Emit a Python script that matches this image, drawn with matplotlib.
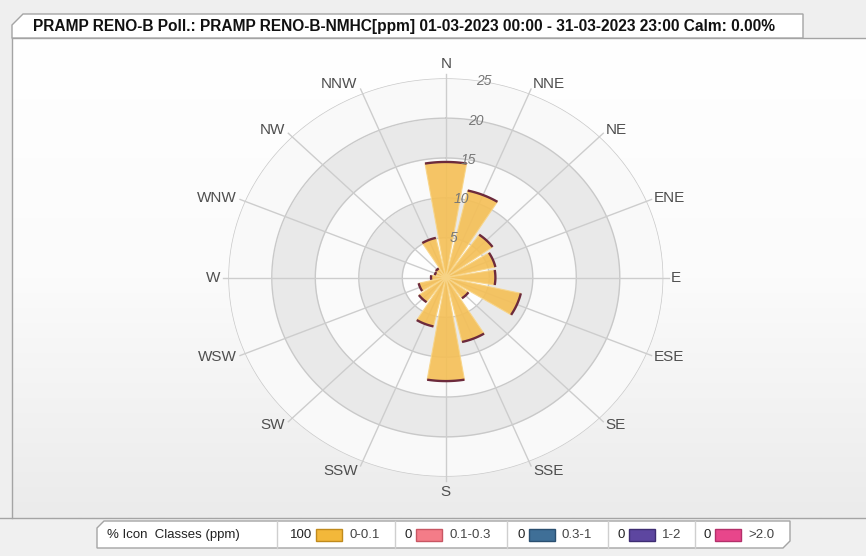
import numpy as np
import matplotlib
matplotlib.use("Agg")
import matplotlib.pyplot as plt
from matplotlib.colors import LinearSegmentedColormap
from matplotlib.patches import Polygon, Rectangle

# ---- data ----
directions = ["N", "NNE", "NE", "ENE", "E", "ESE", "SE", "SSE",
              "S", "SSW", "SW", "WSW", "W", "WNW", "NW", "NNW"]
freq_0_01 = [14.5, 11.2, 6.6, 5.85, 5.7, 8.85, 3.2, 8.3,
             13.0, 6.3, 3.8, 3.2, 1.7, 1.3, 1.4, 5.1]
radial_ticks = [5, 10, 15, 20, 25]
class_labels = ["0-0.1", "0.1-0.3", "0.3-1", "1-2", ">2.0"]
class_share = [100, 0, 0, 0, 0]
class_colors = ["#f3b83a", "#f47c88", "#3f6f97", "#5d46a0", "#e8468b"]
class_edges = ["#c08a1c", "#c85663", "#2a4f70", "#3e2d72", "#b3306a"]
title = ("PRAMP RENO-B Poll.: PRAMP RENO-B-NMHC[ppm] 01-03-2023 00:00 - "
         "31-03-2023 23:00 Calm: 0.00%")

W, H = 866, 556
plt.rcParams["font.family"] = ["Liberation Sans", "DejaVu Sans"]
fig = plt.figure(figsize=(W / 100, H / 100), dpi=100, facecolor="#efefef")

# ---- frame, title tab and legend strip (pixel coordinates) ----
bg = fig.add_axes([0, 0, 1, 1])
bg.set_xlim(0, W)
bg.set_ylim(H, 0)
bg.axis("off")
bg.add_patch(Rectangle((0, 518), W, H - 518, color="#f0f0f0", zorder=0))
panel_cmap = LinearSegmentedColormap.from_list("panel", ["#ffffff", "#fbfbfb", "#ebebeb"])
bg.imshow(np.linspace(0, 1, 256).reshape(-1, 1), cmap=panel_cmap, aspect="auto",
          extent=(12, W, 518, 38), origin="upper", zorder=0.5)
edge = "#a4a4a4"
bg.plot([12, W], [38, 38], color=edge, lw=1, zorder=2)
bg.plot([12, 12], [38, 518], color=edge, lw=1, zorder=2)
bg.plot([0, W], [518, 518], color=edge, lw=1, zorder=2)
bg.add_patch(Polygon([(12, 38), (12, 25), (23, 14), (803, 14), (803, 38)],
                     closed=True, facecolor="white", edgecolor=edge, lw=1, zorder=3))
t = bg.text(33, 27, title, ha="left", va="center", fontsize=10.5,
            fontweight="bold", color="#111111", zorder=4)
renderer = fig.canvas.get_renderer()
wpx = t.get_window_extent(renderer).width
t.set_fontsize(10.5 * 752 / wpx)

# legend strip
bg.add_patch(Polygon([(97, 528), (104, 521), (790, 521), (790, 541), (783, 548), (97, 548)],
                     closed=True, facecolor="white", edgecolor=edge, lw=1, zorder=3))
for sx in [277, 395, 507, 608, 695]:
    bg.plot([sx, sx], [521, 548], color="#cfcfcf", lw=1, zorder=4)
ly = 535
bg.text(107, ly, "% Icon  Classes (ppm)", ha="left", va="center", fontsize=9.5,
        color="#222222", zorder=5)
cells = [(288, 316), (406, 416), (518, 529), (619, 629), (705, 715)]
for (tx, sx), share, lab, fc, ec in zip(cells, class_share, class_labels,
                                       class_colors, class_edges):
    bg.text(sx - 4, ly, str(share), ha="right", va="center", fontsize=9.5,
            color="#222222", zorder=5)
    bg.add_patch(Rectangle((sx, ly - 6), 26, 12, facecolor=fc, edgecolor=ec,
                           lw=1, zorder=5))
    bg.text(sx + 33, ly, lab, ha="left", va="center", fontsize=9.5,
            color="#444444", zorder=5)

# ---- wind rose ----
cx, cy = 445.8, 277.5
rx, ry = 217.5, 199.2
ax = fig.add_axes([(cx - rx) / W, (H - cy - ry) / H, 2 * rx / W, 2 * ry / H],
                  projection="polar")
ax.set_aspect("auto")
ax.set_theta_zero_location("N")
ax.set_theta_direction(-1)
ax.set_ylim(0, 25)
ax.patch.set_alpha(0)
ax.grid(False)
ax.set_xticks([])
ax.set_yticks([])
ax.spines["polar"].set_visible(False)

full = np.linspace(0, 2 * np.pi, 721)
bands = [(0, 5, "#fdfdfd"), (5, 10, "#e9e9e9"), (10, 15, "#fafafa"),
         (15, 20, "#e9e9e9"), (20, 25, "#f9f9f9")]
for r0, r1, c in bands:
    ax.fill_between(full, r0, r1, color=c, lw=0, zorder=0)
for r in radial_ticks:
    ax.plot(full, np.full_like(full, r), color="#c9c9c9", lw=1, zorder=1)

spoke_end = 25.6
angles = np.deg2rad(np.arange(16) * 22.5)
for a in angles:
    ax.plot([a, a], [0, spoke_end], color="#cdcdcd", lw=1, zorder=1, clip_on=False)

width = np.deg2rad(19)
ax.bar(angles, freq_0_01, width=width, bottom=0, color="#f5bf55", alpha=0.9,
       edgecolor="#f8d588", lw=0.8, zorder=3)
for a, v in zip(angles, freq_0_01):
    arc = np.linspace(a - width / 2, a + width / 2, 30)
    ax.plot(arc, np.full_like(arc, v), color="#6c2a3c", lw=1.7, zorder=4,
            solid_capstyle="butt")

# compass labels hang off the end of each spoke
for a, name in zip(angles, directions):
    s, c = np.sin(a), np.cos(a)
    if abs(s) < 0.1:
        ha = "center"
        va = "bottom" if c > 0 else "top"
        off = (0, 3 if c > 0 else -4)
    else:
        ha = "left" if s > 0 else "right"
        va = "center"
        off = (2 if s > 0 else -3, 5 * c)
    ax.annotate(name, xy=(a, spoke_end), xytext=off, textcoords="offset pixels",
                ha=ha, va=va, fontsize=11, color="#4f4f4f", zorder=5,
                annotation_clip=False)
for r in radial_ticks:
    ax.text(np.deg2rad(10), r, str(r), ha="center", va="center", fontsize=10,
            color="#777777", style="italic", zorder=5)

fig.savefig("out.png", dpi=100, facecolor=fig.get_facecolor())
